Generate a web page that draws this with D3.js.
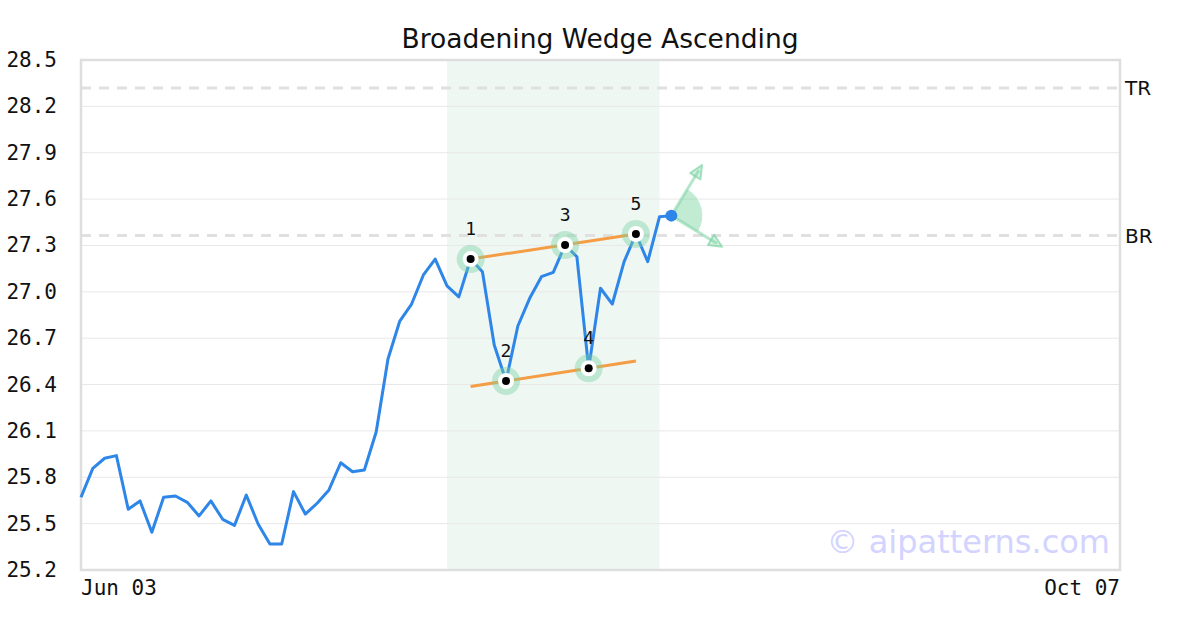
<!DOCTYPE html>
<html><head><meta charset="utf-8">
<script src="https://cdn.jsdelivr.net/npm/d3@7"></script>
<style>body{margin:0;background:#fff}svg{display:block}</style>
</head><body>
<script>
const title = "Broadening Wedge Ascending";
const prices = [25.671,25.858,25.923,25.94,25.593,25.647,25.444,25.671,25.679,25.638,
25.55,25.647,25.528,25.489,25.685,25.498,25.368,25.368,25.707,25.562,
25.632,25.718,25.894,25.836,25.847,26.093,26.565,26.811,26.921,27.109,
27.212,27.038,26.967,27.212,27.13,26.656,26.423,26.779,26.958,27.098,
27.126,27.303,27.227,26.505,27.023,26.921,27.195,27.374,27.195,27.486,27.493];
const totalSlots = 88;
const xTickLabels = ["Jun 03","Oct 07"];
const yTicks = [25.2,25.5,25.8,26.1,26.4,26.7,27.0,27.3,27.6,27.9,28.2,28.5];
const pivotIdx = [33,36,41,43,47];
const pivotLabels = ["1","2","3","4","5"];
const upperLine = [[33,27.212],[47,27.374]];
const lowerLine = [[33,26.388],[47,26.552]];
const zoneRange = [31,49];
const refLevels = [{name:"TR",value:28.319},{name:"BR",value:27.364}];
const projTargets = [[52.6,27.82],[54.3,27.292]];
const watermark = "© aipatterns.com";

const W=1200,H=630, L=81, R=1120, T=60, B=570;
const svg = d3.select("body").append("svg").attr("width",W).attr("height",H);
const x = d3.scaleLinear().domain([0,totalSlots]).range([L,R]);
const y = d3.scaleLinear().domain([25.2,28.5]).range([B,T]);

// zone
svg.append("rect").attr("x",x(zoneRange[0])).attr("y",T).attr("width",x(zoneRange[1])-x(zoneRange[0])).attr("height",B-T).attr("fill","#eff7f3");

// grid
svg.append("g").selectAll("line").data(yTicks).join("line")
 .attr("x1",L).attr("x2",R).attr("y1",d=>y(d)).attr("y2",d=>y(d)).attr("stroke","#e8e8e8").attr("stroke-width",1);

// ref levels
svg.append("g").selectAll("line").data(refLevels).join("line")
 .attr("x1",L).attr("x2",R).attr("y1",d=>y(d.value)).attr("y2",d=>y(d.value))
 .attr("stroke","#e0e0e0").attr("stroke-width",3).attr("stroke-dasharray","10,8");
svg.append("g").selectAll("text").data(refLevels).join("text")
 .attr("x",R+5).attr("y",d=>y(d.value)+7).text(d=>d.name)
 .attr("font-family","DejaVu Sans").attr("font-size",20).attr("fill","#111");

// border
svg.append("rect").attr("x",L).attr("y",T).attr("width",R-L).attr("height",B-T).attr("fill","none").attr("stroke","#dedede").attr("stroke-width",2.5);

// y axis labels
svg.append("g").selectAll("text").data(yTicks).join("text")
 .attr("x",57).attr("y",d=>y(d)+7).attr("text-anchor","end").text(d=>d.toFixed(1))
 .attr("font-family","DejaVu Sans Mono").attr("font-size",21).attr("fill","#111");
// x axis labels
svg.append("text").attr("x",x(0)).attr("y",595).text(xTickLabels[0]).attr("font-family","DejaVu Sans Mono").attr("font-size",21).attr("fill","#111");
svg.append("text").attr("x",x(totalSlots)).attr("y",595).attr("text-anchor","end").text(xTickLabels[1]).attr("font-family","DejaVu Sans Mono").attr("font-size",21).attr("fill","#111");

// title
svg.append("text").attr("x",600).attr("y",48).attr("text-anchor","middle").text(title).attr("font-family","DejaVu Sans").attr("font-size",26.5).attr("fill","#111");

// watermark
svg.append("text").attr("x",1110).attr("y",553).attr("text-anchor","end").text(watermark).attr("font-family","DejaVu Sans").attr("font-size",32).attr("fill","#d3d3ff");

// price line
const line = d3.line().x((d,i)=>x(i)).y(d=>y(d));
svg.append("path").datum(prices).attr("d",line).attr("fill","none").attr("stroke","#2e86e8").attr("stroke-width",3).attr("stroke-linejoin","round");

// wedge lines
const l2 = d3.line().x(d=>x(d[0])).y(d=>y(d[1]));
[upperLine,lowerLine].forEach(l=>svg.append("path").datum(l).attr("d",l2).attr("stroke","#f59d45").attr("stroke-width",3).attr("fill","none"));

// pivots
const pg = svg.append("g").selectAll("g").data(pivotIdx).join("g").attr("transform",d=>`translate(${x(d)},${y(prices[d])})`);
pg.append("circle").attr("r",14).attr("fill","rgba(120,210,160,0.42)");
pg.append("circle").attr("r",8).attr("fill","#fff");
pg.append("circle").attr("r",4).attr("fill","#000");
svg.append("g").selectAll("text").data(pivotIdx).join("text")
 .attr("x",d=>x(d)).attr("y",d=>y(prices[d])-24).attr("text-anchor","middle").text((d,i)=>pivotLabels[i])
 .attr("font-family","DejaVu Sans Mono").attr("font-size",18).attr("fill","#111");

// projection
const last = prices.length-1;
const ox = x(last), oy = y(prices[last]);
const angs = projTargets.map(p=>Math.atan2(y(p[1])-oy, x(p[0])-ox));
const arc = d3.arc().innerRadius(0).outerRadius(31).startAngle(angs[0]+Math.PI/2).endAngle(angs[1]+Math.PI/2);
svg.append("path").attr("d",arc()).attr("transform",`translate(${ox},${oy})`).attr("fill","rgba(120,210,160,0.45)");
projTargets.forEach((p,k)=>{
  const tx=x(p[0]), ty=y(p[1]); const a=angs[k];
  svg.append("line").attr("x1",ox).attr("y1",oy).attr("x2",tx-Math.cos(a)*6).attr("y2",ty-Math.sin(a)*6).attr("stroke","rgba(120,210,160,0.55)").attr("stroke-width",3);
  const s=13, w=6;
  const bx=tx-Math.cos(a)*s, by=ty-Math.sin(a)*s;
  const pts=[[tx,ty],[bx+Math.sin(a)*w,by-Math.cos(a)*w],[bx-Math.sin(a)*w,by+Math.cos(a)*w]];
  svg.append("polygon").attr("points",pts.map(q=>q.join(",")).join(" ")).attr("fill","rgba(120,210,160,0.3)").attr("stroke","rgba(120,210,160,0.65)").attr("stroke-width",2).attr("stroke-linejoin","round");
});
svg.append("circle").attr("cx",ox).attr("cy",oy).attr("r",6).attr("fill","#2e86e8");
</script>
</body></html>
